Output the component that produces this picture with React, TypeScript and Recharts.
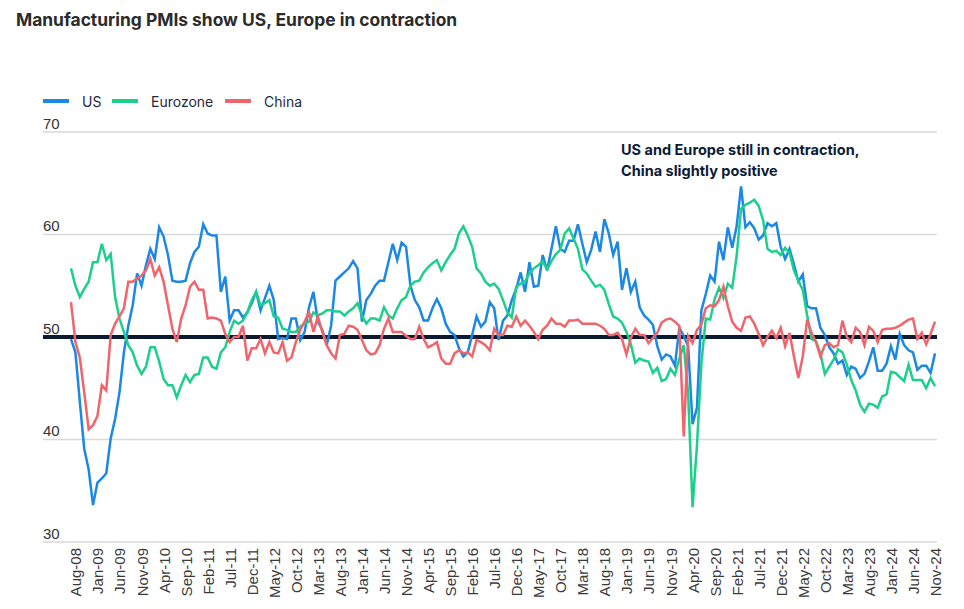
import React from 'react';
import { LineChart, Line, XAxis, YAxis, CartesianGrid, ReferenceLine } from 'recharts';

// Monthly manufacturing PMIs, Jul-08 .. Nov-24
const START_YEAR = 2008;
const START_MONTH = 6; // July (0-based)
const MONTH_NAMES = ['Jan', 'Feb', 'Mar', 'Apr', 'May', 'Jun', 'Jul', 'Aug', 'Sep', 'Oct', 'Nov', 'Dec'];

const TICK_LABELS = [
  'Aug-08', 'Jan-09', 'Jun-09', 'Nov-09', 'Apr-10', 'Sep-10', 'Feb-11', 'Jul-11', 'Dec-11', 'May-12',
  'Oct-12', 'Mar-13', 'Aug-13', 'Jan-14', 'Jun-14', 'Nov-14', 'Apr-15', 'Sep-15', 'Feb-16', 'Jul-16',
  'Dec-16', 'May-17', 'Oct-17', 'Mar-18', 'Aug-18', 'Jan-19', 'Jun-19', 'Nov-19', 'Apr-20', 'Sep-20',
  'Feb-21', 'Jul-21', 'Dec-21', 'May-22', 'Oct-22', 'Mar-23', 'Aug-23', 'Jan-24', 'Jun-24', 'Nov-24',
];

const Y_TICKS = [30, 40, 50, 60, 70];

const US = [
  49.8, 48.5, 43.7, 39.1, 37.1, 33.6, 35.8, 36.2, 36.7, 40.1, 42.0, 44.6,
  48.5, 51.1, 53.1, 56.2, 55.0, 57.0, 58.6, 57.6, 60.7, 59.8, 58.0, 55.5,
  55.4, 55.4, 55.5, 57.2, 58.3, 58.8, 61.0, 60.1, 59.9, 59.9, 54.4, 55.9,
  51.6, 52.6, 52.6, 51.9, 52.4, 53.3, 54.4, 52.6, 53.8, 55.0, 53.6, 49.8,
  49.9, 49.8, 51.8, 51.8, 49.7, 50.5, 52.9, 54.4, 51.5, 50.7, 49.2, 51.1,
  55.5, 55.9, 56.3, 56.7, 57.4, 56.7, 51.5, 53.6, 54.2, 55.0, 55.5, 55.5,
  57.3, 59.1, 57.5, 59.2, 58.8, 55.0, 53.6, 52.9, 51.6, 51.6, 52.8, 53.7,
  52.8, 51.3, 50.5, 50.2, 48.9, 48.1, 48.5, 50.2, 52.0, 51.0, 51.5, 53.4,
  52.8, 49.7, 51.6, 52.1, 53.6, 54.7, 56.3, 54.4, 57.3, 54.9, 55.0, 58.0,
  56.5, 58.6, 60.8, 58.6, 58.3, 59.4, 59.4, 61.0, 59.1, 57.3, 58.5, 60.3,
  58.3, 61.5, 60.1, 58.0, 59.3, 54.6, 56.7, 54.4, 55.4, 52.9, 52.1, 51.7,
  51.2, 49.1, 47.8, 48.3, 48.1, 47.2, 50.9, 50.1, 49.1, 41.5, 43.1, 52.6,
  54.2, 56.0, 55.4, 59.3, 57.5, 60.7, 58.7, 60.8, 64.7, 60.7, 61.2, 60.6,
  59.5, 59.9, 61.1, 60.8, 61.1, 58.8, 57.6, 58.6, 57.1, 55.4, 56.1, 53.0,
  52.8, 52.8, 50.9, 50.2, 49.0, 48.4, 47.4, 47.7, 46.3, 47.1, 46.9, 46.0,
  46.4, 47.6, 49.0, 46.7, 46.7, 47.4, 49.1, 47.8, 50.3, 49.2, 48.7, 48.5,
  46.8, 47.2, 47.2, 46.5, 48.4,
];

const EUROZONE = [
  56.7, 55.0, 53.9, 54.7, 55.4, 57.3, 57.3, 59.1, 57.5, 58.1, 53.9, 51.8,
  50.5, 49.2, 48.5, 47.2, 46.4, 47.1, 49.0, 49.0, 47.6, 45.9, 45.3, 45.3,
  44.1, 45.3, 46.3, 45.6, 46.3, 46.4, 48.0, 48.0, 47.1, 46.9, 48.5, 49.0,
  50.5, 51.6, 51.3, 51.6, 52.4, 53.6, 54.4, 53.1, 53.3, 53.6, 52.0, 51.9,
  50.8, 50.7, 50.5, 50.5, 51.0, 51.3, 51.5, 52.4, 52.1, 52.3, 52.6, 52.6,
  52.5, 52.5, 52.1, 52.5, 52.8, 53.3, 52.1, 51.3, 51.8, 51.8, 51.6, 52.9,
  52.1, 51.8, 52.8, 53.6, 53.9, 55.0, 55.4, 55.5, 56.3, 56.8, 57.2, 57.5,
  56.5, 57.3, 58.0, 58.6, 60.1, 60.8, 59.9, 58.8, 56.7, 56.2, 55.4, 55.0,
  55.2, 54.7, 53.6, 52.4, 51.9, 54.9, 55.2, 55.4, 56.2, 56.7, 57.0, 57.4,
  56.6, 57.4, 58.1, 58.5, 60.1, 60.6, 59.6, 58.6, 56.6, 56.2, 55.5, 54.9,
  55.1, 54.6, 53.2, 52.0, 51.8, 51.4, 50.5, 49.3, 47.5, 47.9, 47.7, 47.6,
  46.5, 47.0, 45.7, 45.9, 46.9, 46.3, 47.9, 49.2, 44.5, 33.4, 39.4, 47.4,
  51.8, 51.7, 53.7, 54.8, 53.8, 55.2, 54.8, 57.9, 62.5, 62.9, 63.1, 63.4,
  62.8, 61.4, 58.6, 58.3, 58.4, 58.0, 58.7, 58.2, 56.5, 55.5, 54.6, 52.1,
  49.8, 49.6, 48.4, 46.4, 47.1, 47.8, 48.8, 48.5, 47.3, 45.8, 44.8, 43.4,
  42.7, 43.5, 43.4, 43.1, 44.2, 44.4, 46.6, 46.5, 46.1, 45.7, 47.3, 45.8,
  45.8, 45.8, 45.0, 46.0, 45.2,
];

const CHINA = [
  53.4, 49.5, 48.0, 44.6, 41.0, 41.4, 42.3, 45.3, 44.8, 50.2, 51.3, 52.0,
  52.8, 55.4, 55.4, 55.7, 56.0, 56.5, 57.6, 56.0, 56.8, 55.4, 53.1, 50.8,
  49.5, 51.8, 53.1, 54.9, 55.4, 54.6, 54.6, 51.8, 51.9, 51.8, 51.6, 50.3,
  49.5, 50.0, 50.0, 51.1, 47.7, 48.9, 48.9, 49.8, 48.4, 49.5, 48.5, 48.4,
  49.5, 47.7, 48.0, 49.5, 50.7, 51.5, 52.4, 50.5, 52.0, 50.5, 49.2, 48.4,
  47.9, 50.2, 50.3, 51.1, 51.0, 50.7, 49.7, 48.7, 48.3, 48.4, 49.2, 50.8,
  51.8, 50.5, 50.5, 50.5, 50.1, 49.8, 49.8, 51.0, 49.8, 49.0, 49.2, 49.5,
  47.9, 47.4, 47.4, 48.4, 48.7, 48.4, 48.5, 48.1, 49.7, 49.5, 49.2, 48.7,
  50.8, 50.2, 50.2, 51.1, 51.0, 52.0, 51.1, 51.6, 51.1, 50.5, 49.8, 50.7,
  51.1, 51.8, 51.3, 51.3, 51.0, 51.6, 51.6, 51.7, 51.3, 51.3, 51.3, 51.3,
  51.1, 50.8, 50.2, 50.2, 50.4, 49.8, 48.3, 49.9, 50.8, 50.2, 50.2, 49.4,
  49.9, 50.4, 51.4, 51.7, 51.8, 51.5, 51.1, 40.3, 50.1, 49.4, 50.7, 51.2,
  52.8, 53.1, 53.0, 53.6, 54.9, 53.0, 51.5, 50.9, 50.6, 51.9, 52.0, 51.3,
  50.3, 49.2, 50.0, 50.6, 49.9, 50.9, 49.1, 50.4, 48.1, 46.0, 48.1, 51.7,
  50.4, 49.5, 48.1, 49.2, 49.4, 49.0, 49.2, 51.6, 50.0, 49.5, 50.9, 50.5,
  49.2, 51.0, 50.6, 49.5, 50.7, 50.8, 50.8, 50.9, 51.1, 51.4, 51.7, 51.8,
  49.8, 50.4, 49.3, 50.3, 51.5,
];

const SERIES = [
  { key: 'us', name: 'US', color: '#1b88e3' },
  { key: 'eurozone', name: 'Eurozone', color: '#1ccf8b' },
  { key: 'china', name: 'China', color: '#f0646c' },
];

const data = US.map((v, i) => {
  const m = START_MONTH + i;
  const label = `${MONTH_NAMES[m % 12]}-${String((START_YEAR + Math.floor(m / 12)) % 100).padStart(2, '0')}`;
  return { month: label, us: v, eurozone: EUROZONE[i], china: CHINA[i] };
});

const UI_FONT = 'Inter, "Noto Sans", sans-serif';
const AXIS_FONT = '"Liberation Sans", Arial, sans-serif';

// y labels sit above each gridline, flush with the plot's left edge
const YTick = ({ y, payload }: any) => (
  <text x={43} y={y - 3.5} fontSize={15} fontFamily={AXIS_FONT} fill="#333">
    {payload.value}
  </text>
);

const XTick = ({ x, y, payload }: any) => {
  if (!TICK_LABELS.includes(payload.value)) return <g />;
  return (
    <text
      transform={`translate(${x + 6},${y + 6}) rotate(-90)`}
      textAnchor="end"
      fontSize={15}
      fontFamily={AXIS_FONT}
      fill="#3a3a3a"
    >
      {payload.value}
    </text>
  );
};

const App: React.FC = () => {
  return (
    <div style={{ position: 'absolute', left: 0, top: 0, width: 964, height: 609, background: '#fff' }}>
      <div
        style={{
          position: 'absolute',
          left: 16,
          top: 9,
          fontFamily: UI_FONT,
          fontSize: 17.4,
          fontWeight: 700,
          lineHeight: '22px',
          color: '#2b2b2b',
          whiteSpace: 'nowrap',
        }}
      >
        Manufacturing PMIs show US, Europe in contraction
      </div>

      <div style={{ position: 'absolute', left: 43, top: 91, height: 20, fontFamily: UI_FONT, fontSize: 14, color: '#1f2a38' }}>
        {SERIES.map((s, i) => (
          <div key={s.key} style={{ position: 'absolute', left: [0, 69, 182][i], top: 0, display: 'flex', alignItems: 'center', height: 20, whiteSpace: 'nowrap' }}>
            <span style={{ display: 'inline-block', width: 26, height: 4, background: s.color, marginRight: 13 }} />
            <span>{s.name}</span>
          </div>
        ))}
      </div>

      <div style={{ position: 'absolute', left: 0, top: 0 }}>
        <LineChart width={964} height={609} data={data} margin={{ top: 132, right: 27, bottom: 0, left: 0 }}>
          <CartesianGrid vertical={false} stroke="#d9d9d9" strokeWidth={1.5} />
          <XAxis
            dataKey="month"
            interval={0}
            tick={<XTick />}
            tickLine={false}
            axisLine={false}
            tickSize={0}
            tickMargin={0}
            height={67}
            padding={{ left: 28, right: 2 }}
          />
          <YAxis
            domain={[30, 70]}
            ticks={Y_TICKS}
            width={43}
            axisLine={false}
            tickLine={false}
            tick={<YTick />}
          />
          <ReferenceLine y={50} stroke="#0b1a31" strokeWidth={4} />
          {SERIES.map((s) => (
            <Line
              key={s.key}
              type="linear"
              dataKey={s.key}
              name={s.name}
              stroke={s.color}
              strokeWidth={2.5}
              dot={false}
              activeDot={false}
              isAnimationActive={false}
            />
          ))}
        </LineChart>
      </div>

      <div
        style={{
          position: 'absolute',
          left: 621,
          top: 139,
          fontFamily: UI_FONT,
          fontSize: 14.5,
          fontWeight: 700,
          lineHeight: '21px',
          color: '#0d1b33',
          whiteSpace: 'nowrap',
        }}
      >
        US and Europe still in contraction,
        <br />
        China slightly positive
      </div>
    </div>
  );
};

export default App;
